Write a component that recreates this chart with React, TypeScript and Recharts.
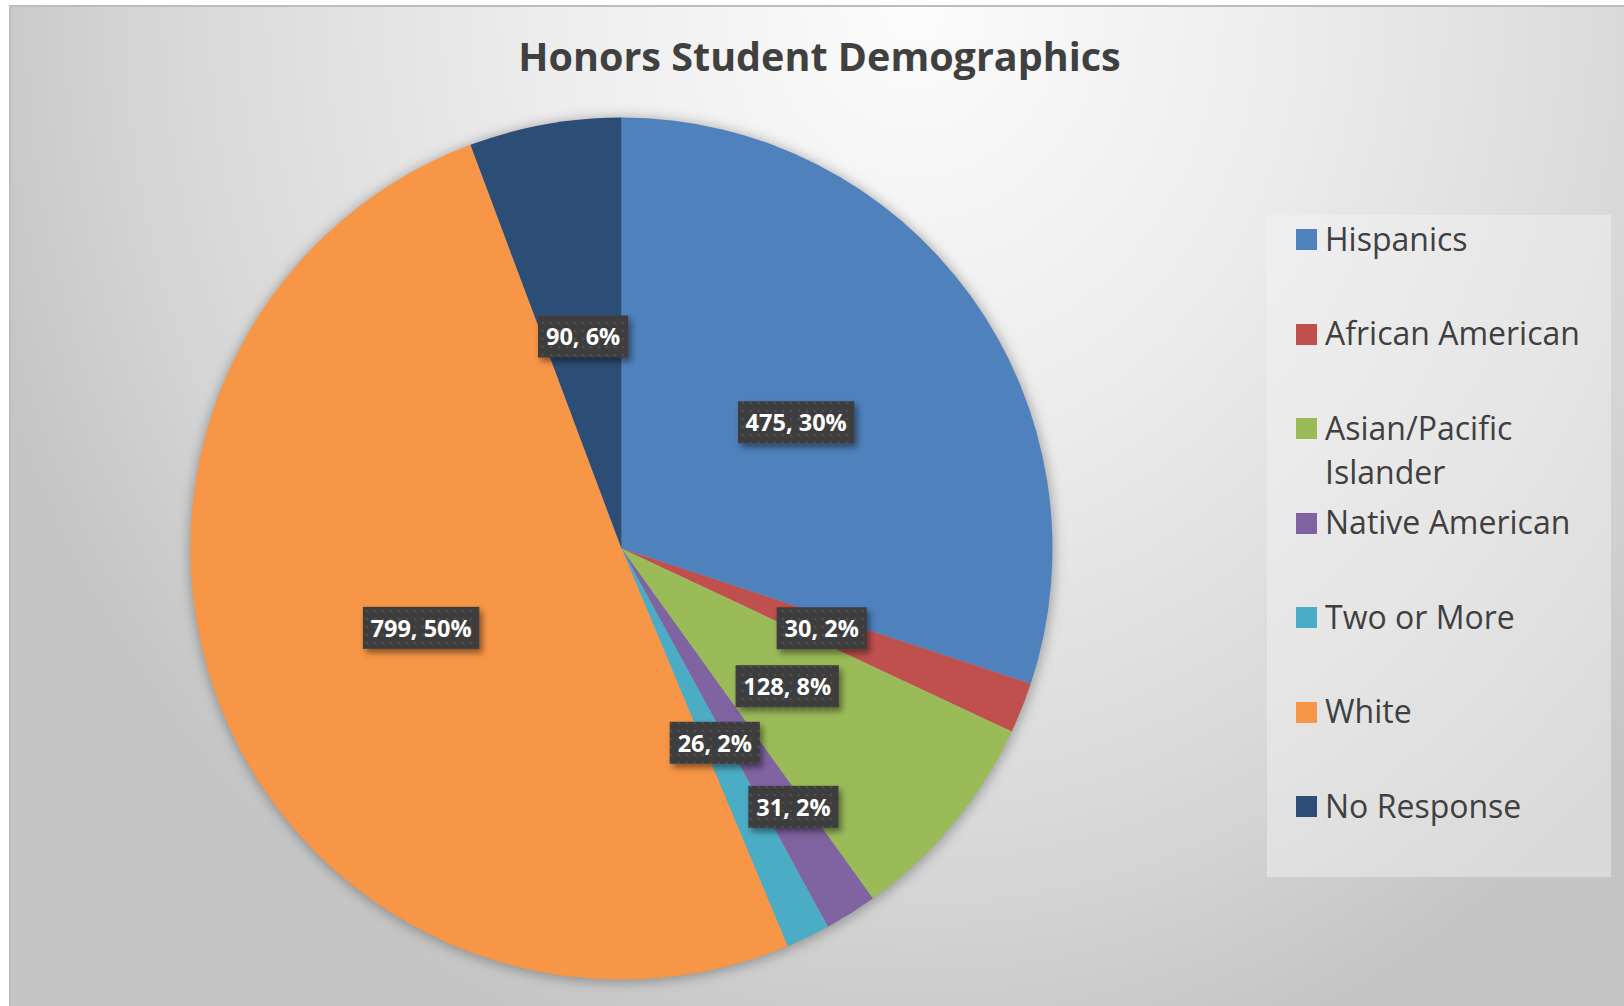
import { Cell, Legend, Pie, PieChart } from "recharts";

const groups = [
  "Hispanics",
  "African American",
  "Asian/Pacific Islander",
  "Native American",
  "Two or More",
  "White",
  "No Response",
];
const students = [475, 30, 128, 31, 26, 799, 90];
const colors = ["#4f81bd", "#c0504d", "#9bbb59", "#8064a2", "#4bacc6", "#f79646", "#2c4d75"];

const total = students.reduce((a, b) => a + b, 0);

// Excel rounds the shares so they add up to 100 (largest remainder)
function roundedShares(values: number[]) {
  const raw = values.map((v) => (v / total) * 100);
  const out = raw.map((r) => Math.floor(r));
  const left = 100 - out.reduce((a, b) => a + b, 0);
  const order = raw
    .map((r, i) => ({ i, rem: r - Math.floor(r) }))
    .sort((a, b) => b.rem - a.rem);
  for (let k = 0; k < left; k++) out[order[k].i] += 1;
  return out;
}
const shares = roundedShares(students);

const data = groups.map((name, i) => ({ name, value: students[i] }));

const FONT = "'Open Sans', 'Noto Sans', sans-serif";

function textWidth(s: string, size: number) {
  let w = 0;
  for (const ch of s) {
    if (ch === ",") w += 0.29;
    else if (ch === " ") w += 0.26;
    else if (ch === "%") w += 0.87;
    else w += 0.572;
  }
  return w * size;
}

function SliceLabel(props: any) {
  const { cx, cy, midAngle, outerRadius, index } = props;
  // Excel moved the Native American label outward so it does not collide
  const pushed = groups[index] === "Native American";
  const k = pushed ? 0.72 : 0.5;
  const rad = (-(midAngle + (pushed ? 1.5 : 0)) * Math.PI) / 180;
  const x = cx + outerRadius * k * Math.cos(rad);
  const y = cy + outerRadius * k * Math.sin(rad);
  const text = `${students[index]}, ${shares[index]}%`;
  const w = textWidth(text, 23) + 18;
  const h = 42;
  return (
    <g>
      <rect x={x - w / 2} y={y - h / 2} width={w} height={h} fill="#3e3e3e" filter="url(#labelShadow)" />
      <rect x={x - w / 2} y={y - h / 2} width={w} height={h} fill="url(#dots)" />
      <text
        x={x}
        y={y + 9}
        textAnchor="middle"
        fill="#ffffff"
        fontSize={23.5}
        fontWeight={700}
        fontFamily={FONT}
      >
        {text}
      </text>
    </g>
  );
}

function LegendBox(props: any) {
  const items = (props.payload || [])
    .filter((p: any) => p.type !== "none")
    .slice()
    .sort((a: any, b: any) => groups.indexOf(a.value) - groups.indexOf(b.value));
  return (
    <div
      style={{
        width: 344,
        height: 662,
        boxSizing: "border-box",
        paddingTop: 1.5,
        background: "rgba(244,244,244,0.45)",
        fontFamily: FONT,
        fontSize: 32,
        color: "#404040",
      }}
    >
      {items.map((entry: any) => (
        <div key={entry.value} style={{ height: 94.5, display: "flex", alignItems: "flex-start" }}>
          <div
            style={{
              width: 21,
              height: 21,
              marginLeft: 29,
              marginTop: 12.5,
              background: entry.color,
              flex: "none",
            }}
          />
          <div style={{ marginLeft: 8, width: 274, lineHeight: "44px" }}>{entry.value}</div>
        </div>
      ))}
    </div>
  );
}

export default function App() {
  return (
    <div
      style={{
        position: "absolute",
        left: 9,
        top: 5,
        width: 1613,
        height: 999,
        borderTop: "2px solid #bdbdbd",
        borderLeft: "2px solid #bdbdbd",
        background:
          "radial-gradient(ellipse 60% 110% at 56% 0%, #fcfcfc 0%, #ececec 40%, #d9d9d9 75%, #c5c5c5 100%)",
        overflow: "hidden",
      }}
    >
      <svg width={0} height={0} style={{ position: "absolute" }}>
        <defs>
          <pattern id="dots" width={8} height={8} patternUnits="userSpaceOnUse">
            <circle cx={4} cy={4} r={1.3} fill="#5a5a5a" opacity={0.6} />
          </pattern>
          <filter id="labelShadow" x="-30%" y="-40%" width="160%" height="200%">
            <feDropShadow dx={3} dy={4} stdDeviation={3} floodColor="#000" floodOpacity={0.45} />
          </filter>
          <filter id="pieGlow" x="-10%" y="-10%" width="120%" height="120%">
            <feGaussianBlur stdDeviation={6} />
          </filter>
        </defs>
      </svg>
      <div
        style={{
          position: "absolute",
          left: 408.5,
          top: 30.2,
          width: 800,
          textAlign: "center",
          fontFamily: FONT,
          fontWeight: 700,
          fontSize: 39.5,
          lineHeight: "39.5px",
          color: "#404040",
          zIndex: 2,
        }}
      >
        Honors Student Demographics
      </div>
      <PieChart width={1613} height={999} margin={{ top: 0, right: 0, bottom: 0, left: 0 }}>
        <Pie
          data={[{ name: "all", value: total }]}
          dataKey="value"
          cx={611}
          cy={543}
          outerRadius={433}
          startAngle={90}
          endAngle={-270}
          stroke="none"
          legendType="none"
          isAnimationActive={false}
        >
          <Cell fill="rgba(0,0,0,0.28)" filter="url(#pieGlow)" />
        </Pie>
        <Pie
          data={data}
          dataKey="value"
          nameKey="name"
          cx={610.5}
          cy={541.5}
          outerRadius={431}
          startAngle={90}
          endAngle={-270}
          stroke="none"
          labelLine={false}
          label={SliceLabel}
          isAnimationActive={false}
        >
          {data.map((d, i) => (
            <Cell key={d.name} fill={colors[i]} />
          ))}
        </Pie>
        <Legend
          layout="vertical"
          align="right"
          verticalAlign="top"
          content={LegendBox}
          wrapperStyle={{ position: "absolute", left: 1256, top: 208, width: 344, height: 662 }}
        />
      </PieChart>
    </div>
  );
}
